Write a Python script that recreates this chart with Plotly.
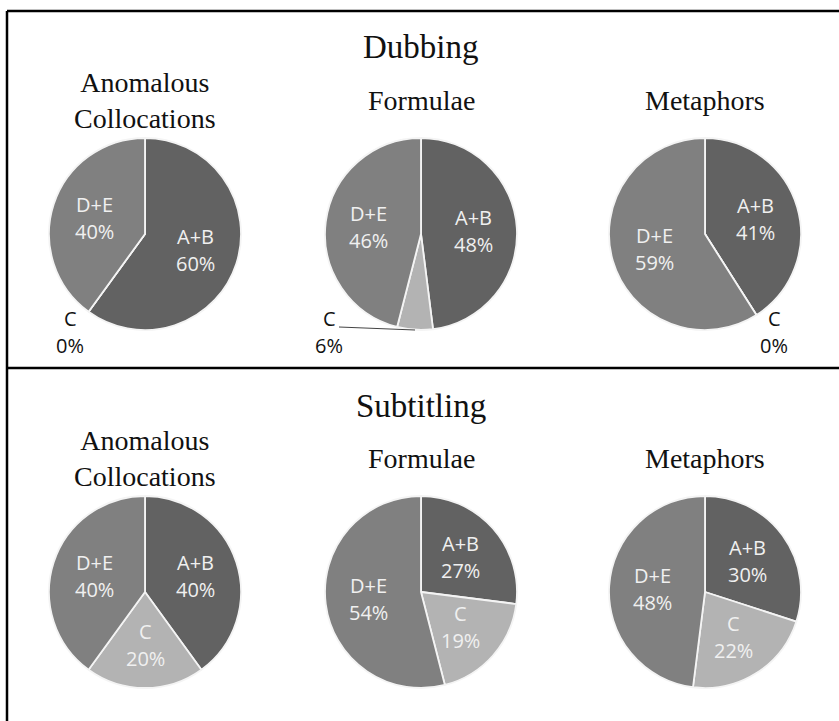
import math
import plotly.graph_objects as go

W, H = 839, 721

# Data
modes = ["Dubbing", "Subtitling"]
categories = ["Anomalous<br>Collocations", "Formulae", "Metaphors"]
slice_labels = ["A+B", "C", "D+E"]
dubbing_anomalous = [60, 0, 40]
dubbing_formulae = [48, 6, 46]
dubbing_metaphors = [41, 0, 59]
subtitling_anomalous = [40, 20, 40]
subtitling_formulae = [27, 19, 54]
subtitling_metaphors = [30, 22, 48]

values = {
    "Dubbing": [dubbing_anomalous, dubbing_formulae, dubbing_metaphors],
    "Subtitling": [subtitling_anomalous, subtitling_formulae, subtitling_metaphors],
}

slice_colors = ["#626262", "#b3b3b3", "#808080"]

# Layout in pixels
col_x = [145, 421, 705]
row_y = {"Dubbing": 234, "Subtitling": 592}
R = 96
mode_title_y = {"Dubbing": 47, "Subtitling": 406}
cat_title_y = {"Dubbing": 101, "Subtitling": 458}
LABEL_FRAC = 0.55
LINE_GAP = 13.5
MIN_INSIDE = 10  # slices below this share get an outside callout

SERIF = "Liberation Serif"
SANS = "Open Sans"


def px(x):
    return x / W


def py(y):
    return 1 - y / H


fig = go.Figure()
annotations = []


def text_pair(x, y, top, bottom, color):
    for dy, t in ((-LINE_GAP, top), (LINE_GAP, bottom)):
        annotations.append(dict(
            x=px(x), y=py(y + dy), xref="paper", yref="paper", text=t,
            showarrow=False, xanchor="center", yanchor="middle",
            font=dict(family=SANS, size=20, color=color),
        ))


for mode in modes:
    cy = row_y[mode]
    annotations.append(dict(
        x=px(421), y=py(mode_title_y[mode]), xref="paper", yref="paper",
        text=mode, showarrow=False, xanchor="center", yanchor="middle",
        font=dict(family=SERIF, size=33, color="#111111"),
    ))
    for ci, cat in enumerate(categories):
        cx = col_x[ci]
        vals = values[mode][ci]
        total = sum(vals)
        fig.add_trace(go.Pie(
            labels=slice_labels, values=vals, sort=False,
            direction="clockwise", rotation=0,
            marker=dict(colors=slice_colors, line=dict(color="#f4f4f4", width=1.8)),
            textinfo="none", showlegend=False, hoverinfo="label+percent",
            domain=dict(x=[px(cx - R), px(cx + R)], y=[py(cy + R), py(cy - R)]),
        ))
        # category title
        annotations.append(dict(
            x=px(cx), y=py(cat_title_y[mode]), xref="paper", yref="paper",
            text=cat, showarrow=False, xanchor="center", yanchor="middle",
            font=dict(family=SERIF, size=28, color="#111111"),
        ))
        # slice labels placed along each slice's bisector
        start = 0.0
        for lab, v in zip(slice_labels, vals):
            share = 100 * v / total
            mid = 2 * math.pi * (start + share / 2) / 100
            start += share
            pct = f"{round(share)}%"
            if share >= MIN_INSIDE:
                lx = cx + LABEL_FRAC * R * math.sin(mid)
                ly = cy - LABEL_FRAC * R * math.cos(mid)
                text_pair(lx, ly, lab, pct, "#f0f0f0")

# Callouts for the C slice where it is empty or too thin to hold text
callouts = [
    ("Dubbing", 0, 70, 332, None),
    ("Dubbing", 1, 329, 332, ((339, 327), (415, 330))),
    ("Dubbing", 2, 774, 332, None),
]
for mode, ci, lx, ly, leader in callouts:
    vals = values[mode][ci]
    share = 100 * vals[1] / sum(vals)
    text_pair(lx, ly, slice_labels[1], f"{round(share)}%", "#111111")
    if leader is not None:
        (x0, y0), (x1, y1) = leader
        fig.add_shape(type="line", xref="paper", yref="paper",
                      x0=px(x0), y0=py(y0), x1=px(x1), y1=py(y1),
                      line=dict(color="#444444", width=1))

# Table borders
border = dict(color="black", width=2.5)
fig.add_shape(type="line", xref="paper", yref="paper",
              x0=px(7), y0=py(11), x1=1, y1=py(11), line=border)
fig.add_shape(type="line", xref="paper", yref="paper",
              x0=px(7), y0=py(368), x1=1, y1=py(368), line=border)
fig.add_shape(type="line", xref="paper", yref="paper",
              x0=px(7), y0=py(11), x1=px(7), y1=0, line=border)

fig.update_layout(
    width=W, height=H,
    margin=dict(l=0, r=0, t=0, b=0),
    paper_bgcolor="white", plot_bgcolor="white",
    annotations=annotations,
)

fig.write_html("out.html")
